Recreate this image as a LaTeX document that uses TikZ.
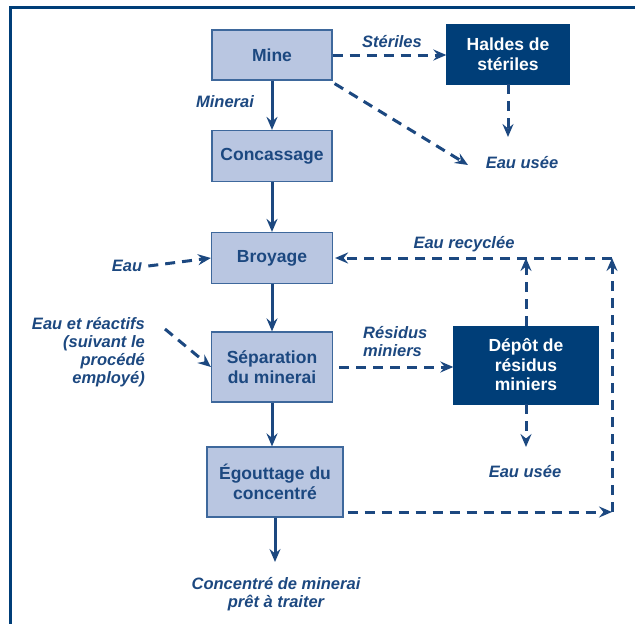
\documentclass[tikz,border=0pt]{standalone}
\usepackage{fontspec}
\setmainfont{Liberation Sans}
\usetikzlibrary{arrows.meta}
\definecolor{bleuclair}{RGB}{185,198,225}
\definecolor{bleutrait}{RGB}{62,104,156}
\definecolor{bleufonce}{RGB}{0,62,120}
\definecolor{bleutexte}{RGB}{28,72,128}
\tikzstyle{etape}=[rectangle, draw=bleutrait, line width=1.2pt, fill=bleuclair, text=bleutexte, inner sep=0pt, align=center, font=\bfseries\fontsize{17.5}{20}\selectfont]
\tikzstyle{stock}=[rectangle, draw=bleufonce, fill=bleufonce, text=white, inner sep=0pt, align=center, font=\bfseries\fontsize{17.5}{19.5}\selectfont]
\tikzstyle{lbl}=[inner sep=0pt, text=bleutexte, font=\bfseries\itshape\fontsize{16.5}{18}\selectfont]
\tikzstyle{flux}=[draw=bleutexte, line width=3pt, -{Stealth[length=13pt,width=11pt,inset=4.5pt]}]
\tikzstyle{eau}=[flux, dash pattern=on 10pt off 7pt]
\tikzstyle{cadre}=[draw=bleufonce, line width=3pt]

\begin{document}
\begin{tikzpicture}[x=1pt,y=-1pt]
				\useasboundingbox (0,0) rectangle (635,624);
				\draw[cadre] (10,624) -- (10,7) -- (635,7);

				%The process steps
				\draw (272,55) node[etape, minimum width=120pt, minimum height=50pt] (mine) {Mine};
				\draw (272,156) node[etape, minimum width=120pt, minimum height=51pt] (conc) {Concassage};
				\draw (272,258) node[etape, minimum width=121pt, minimum height=51pt] (broy) {Broyage};
				\draw (272,367) node[etape, minimum width=121pt, minimum height=70pt] (sep) {Séparation\\du minerai};
				\draw (275,482) node[etape, minimum width=136pt, minimum height=70pt] (egout) {Égouttage du\\concentré};

				%The stocks
				\draw (508,54) node[stock, minimum width=123pt, minimum height=60pt] (haldes) {Haldes de\\stériles};
				\draw (526,365) node[stock, minimum width=145pt, minimum height=78pt] (depot) {Dépôt de\\résidus\\miniers};

				%The labels
				\draw (392,42) node[lbl] (steriles) {Stériles};
				\draw (225,102) node[lbl] (minerai) {Minerai};
				\draw (522,163) node[lbl] (usee1) {Eau usée};
				\draw (127,266) node[lbl] (eau) {Eau};
				\draw (464,244) node[lbl] (recycl) {Eau recyclée};
				\draw (145,352) node[lbl, anchor=east, align=right] (reactifs) {Eau et réactifs\\(suivant le\\procédé\\employé)};
				\draw (363,342) node[lbl, anchor=west, align=left] (residus) {Résidus\\miniers};
				\draw (525,472) node[lbl] (usee2) {Eau usée};
				\draw (276,594) node[lbl, align=center] (concentre) {Concentré de minerai\\prêt à traiter};

				%Free ends
				\coordinate (h1) at (508,137);
				\coordinate (u1) at (468,165);
				\coordinate (d1) at (526,447);
				\coordinate (fin) at (275,562);
				\coordinate (c1) at (612,258);
				\coordinate (c2) at (612,512);

				\draw[flux] (mine) -- (conc);
				\draw[flux] (conc) -- (broy);
				\draw[flux] (broy) -- (sep);
				\draw[flux] (sep) -- (sep |- egout.north);
				\draw[flux] (egout) -- (fin);

				\draw[eau] (mine.east) -- (mine.east -| haldes.west);
				\draw[eau] ([shift={(2,3)}]mine.south east) -- (u1);
				\draw[eau] (haldes) -- (h1);
				\draw[eau] ([xshift=6pt]eau.east) -- (broy.west);
				\draw[eau] ([shift={(20,12)}]reactifs.north east) -- (sep.west);
				\draw[eau] ([xshift=6pt]sep.east) -- (sep.east -| depot.west);
				\draw[eau] (depot) -- (d1);
				\draw[eau] ([xshift=4pt]egout.east |- c2) -- (c2);
				\draw[eau] (c2) -- (c1);
				\draw[eau] (depot) -- (depot.north |- c1);
				\draw[eau] (c1) -- ([xshift=2pt]broy.east);
			\end{tikzpicture}
\end{document}
